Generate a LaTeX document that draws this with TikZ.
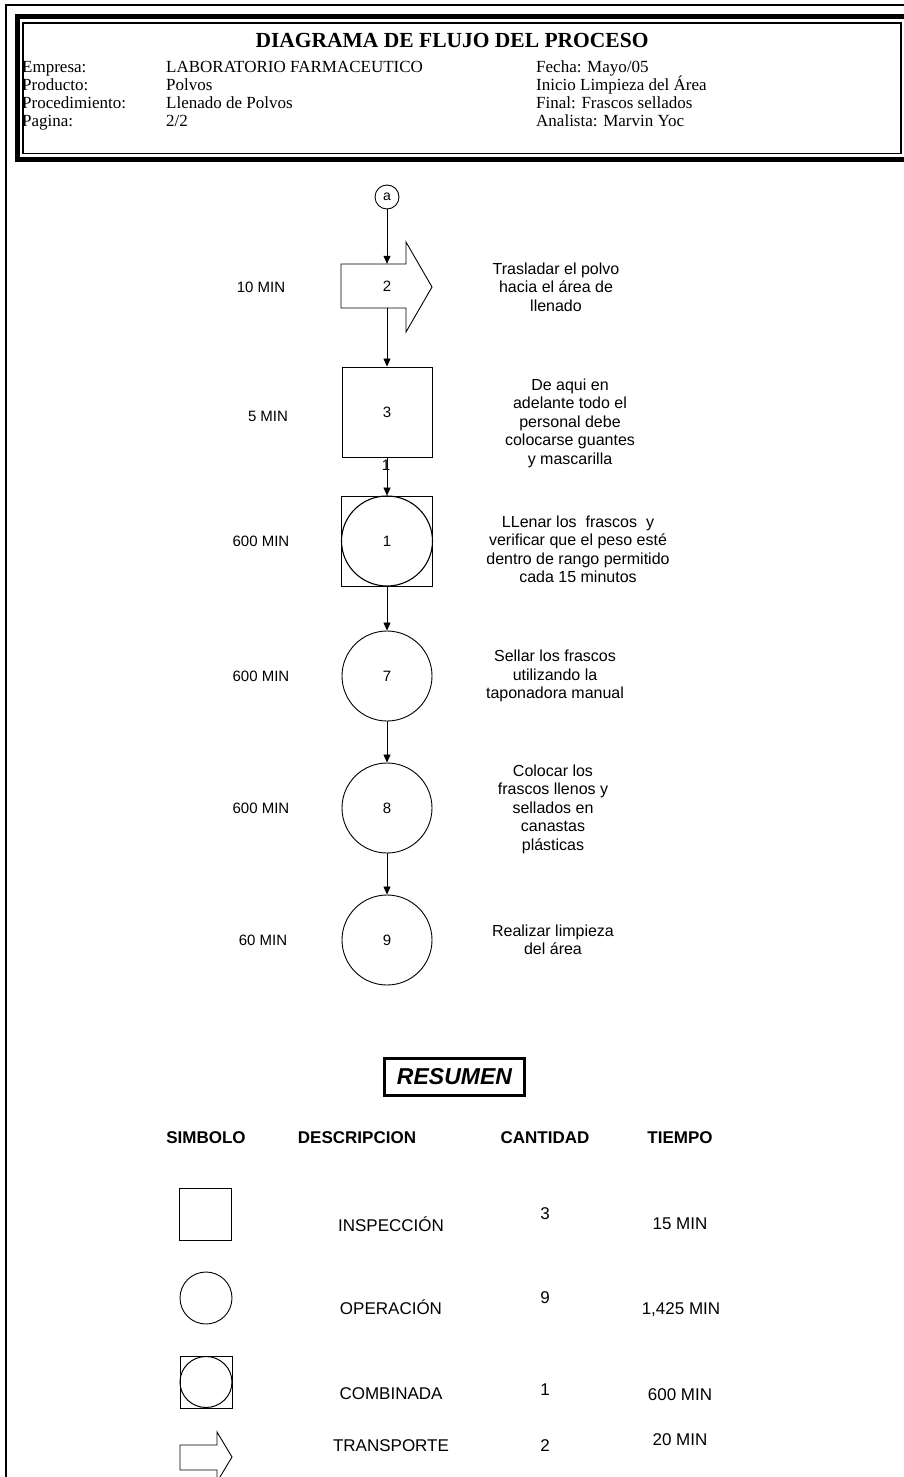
\documentclass[tikz,border=0pt]{standalone}
\usepackage{fontspec}
\setmainfont{Liberation Serif}
\setsansfont{Liberation Sans}
\usetikzlibrary{arrows.meta}
\begin{document}
\begin{tikzpicture}[x=1pt,y=-1pt,
  shp/.style={draw, line width=0.9pt},
  conn/.style={draw, line width=0.8pt, -{Triangle[length=8pt,width=7pt]}},
  lab/.style={font=\sffamily\fontsize{15}{17}\selectfont, inner sep=0},
  desc/.style={font=\sffamily\fontsize{16}{18.5}\selectfont, align=center, inner sep=0},
  hdr/.style={font=\rmfamily\fontsize{17}{19}\selectfont, anchor=base west, inner sep=0},
  colh/.style={font=\sffamily\bfseries\fontsize{17}{19}\selectfont, inner sep=0},
  row/.style={font=\sffamily\fontsize{17}{19}\selectfont, inner sep=0},
]
\useasboundingbox (0,0) rectangle (903,1477);
\fill[white] (0,0) rectangle (903,1477);
% page border
\draw[line width=2pt] (6,1480) -- (6,5) -- (906,5);
% header frame
\draw[line width=5pt] (906,16.5) -- (17.5,16.5) -- (17.5,159.5) -- (906,159.5);
\draw[line width=1.1pt] (901,23) -- (23,23) -- (23,153.5) -- (901,153.5) -- cycle;
\node[font=\rmfamily\bfseries\fontsize{21.5}{23}\selectfont, inner sep=0, anchor=base] (title) at (452,48) {DIAGRAMA DE FLUJO DEL PROCESO};
\node[hdr] (h1) at (22,73) {Empresa:};
\node[hdr] (h2) at (22,91) {Producto:};
\node[hdr] (h3) at (22,109) {Procedimiento:};
\node[hdr] (h4) at (22,127) {Pagina:};
\node[hdr] (v1) at (166,73) {LABORATORIO FARMACEUTICO};
\node[hdr] (v2) at (166,91) {Polvos};
\node[hdr] (v3) at (166,109) {Llenado de Polvos};
\node[hdr] (v4) at (166,127) {2/2};
\node[hdr] (r1) at (536,73) {Fecha: Mayo/05};
\node[hdr] (r2) at (536,91) {Inicio Limpieza del Área};
\node[hdr] (r3) at (536,109) {Final: Frascos sellados};
\node[hdr] (r4) at (536,127) {Analista: Marvin Yoc};

% flow
\node[shp, circle, minimum size=24pt, inner sep=0, font=\sffamily\fontsize{14}{16}\selectfont] (a) at (387,197) {a};
\node[minimum width=91pt, minimum height=44pt, inner sep=0, font=\sffamily\fontsize{15}{17}\selectfont] (t2) at (387,286) {2};
\draw[shp] (341,264) -- (406,264) -- (406,242) -- (432,287) -- (406,332) -- (406,308) -- (341,308) -- cycle;
\node[shp, minimum size=90pt, inner sep=0, font=\sffamily\fontsize{15}{17}\selectfont] (s3) at (387,412) {3};
\node[shp, minimum width=91pt, minimum height=90pt, inner sep=0, font=\sffamily\fontsize{15}{17}\selectfont] (c1) at (387,541) {1};
\draw[line width=1.1pt] (c1.center) ellipse (45.5 and 45);
\node[shp, circle, minimum size=90pt, inner sep=0, font=\sffamily\fontsize{15}{17}\selectfont] (o7) at (387,676) {7};
\node[shp, circle, minimum size=90pt, inner sep=0, font=\sffamily\fontsize{15}{17}\selectfont] (o8) at (387,808) {8};
\node[shp, circle, minimum size=90pt, inner sep=0, font=\sffamily\fontsize{15}{17}\selectfont] (o9) at (387,940) {9};

\draw[conn] (a) -- (t2.north);
\draw[conn] (t2.south) -- (s3);
\draw[conn] (s3) -- (c1);
\node[lab] (one) at (386,465) {1};
\draw[conn] (c1) -- (o7);
\draw[conn] (o7) -- (o8);
\draw[conn] (o8) -- (o9);

% times
\node[lab] (m2) at (261,287) {10 MIN};
\node[lab] (m3) at (268,416) {5 MIN};
\node[lab] (m1) at (261,541) {600 MIN};
\node[lab] (m7) at (261,676) {600 MIN};
\node[lab] (m8) at (261,808) {600 MIN};
\node[lab] (m9) at (263,940) {60 MIN};

% descriptions
\node[desc] (d2) at (556,287) {Trasladar el polvo\\hacia el área de\\llenado};
\node[desc] (d3) at (570,423) {De aqui en\\adelante todo el\\personal debe\\colocarse guantes\\y mascarilla};
\node[desc] (d1) at (578,549.5) {LLenar los\ \ frascos\ \ y\\verificar que el peso esté\\dentro de rango permitido\\cada 15 minutos};
\node[desc] (d7) at (555,676) {Sellar los frascos\\utilizando la\\taponadora manual};
\node[desc] (d8) at (553,809) {Colocar los\\frascos llenos y\\sellados en\\canastas\\plásticas};
\node[desc] (d9) at (553,940) {Realizar limpieza\\del área};

% resumen
\node[draw, line width=3pt, minimum width=140pt, minimum height=37pt, inner sep=0, font=\sffamily\bfseries\itshape\fontsize{23}{25}\selectfont] (res) at (454.5,1077) {RESUMEN};
\node[colh] (c_s) at (206,1138) {SIMBOLO};
\node[colh] (c_d) at (357,1138) {DESCRIPCION};
\node[colh] (c_c) at (545,1138) {CANTIDAD};
\node[colh] (c_t) at (680,1138) {TIEMPO};

\node[shp, minimum size=52pt, inner sep=0] (sq) at (205,1214) {};
\node[row] (d_i) at (391,1224) {INSPECCIÓN};
\node[row] (q_i) at (545,1214) {3};
\node[row] (t_i) at (680,1224) {15 MIN};

\node[shp, circle, minimum size=52pt, inner sep=0] (ci) at (206,1298) {};
\node[row] (d_o) at (391,1307) {OPERACIÓN};
\node[row] (q_o) at (545,1298) {9};
\node[row] (t_o) at (681,1310) {1,425 MIN};

\node[shp, minimum size=52pt, inner sep=0] (cb) at (206,1382) {};
\draw[line width=1pt] (cb.center) ellipse (26 and 25.5);
\node[row] (d_c) at (391,1394) {COMBINADA};
\node[row] (q_c) at (545,1390) {1};
\node[row] (t_c) at (680,1395) {600 MIN};

\draw[shp] (180,1445) -- (217,1445) -- (217,1432) -- (232,1457) -- (217,1482) -- (217,1470) -- (180,1470) -- cycle;
\node[row] (d_t) at (391,1446) {TRANSPORTE};
\node[row] (q_t) at (545,1446) {2};
\node[row] (t_t) at (680,1440) {20 MIN};
\end{tikzpicture}
\end{document}
